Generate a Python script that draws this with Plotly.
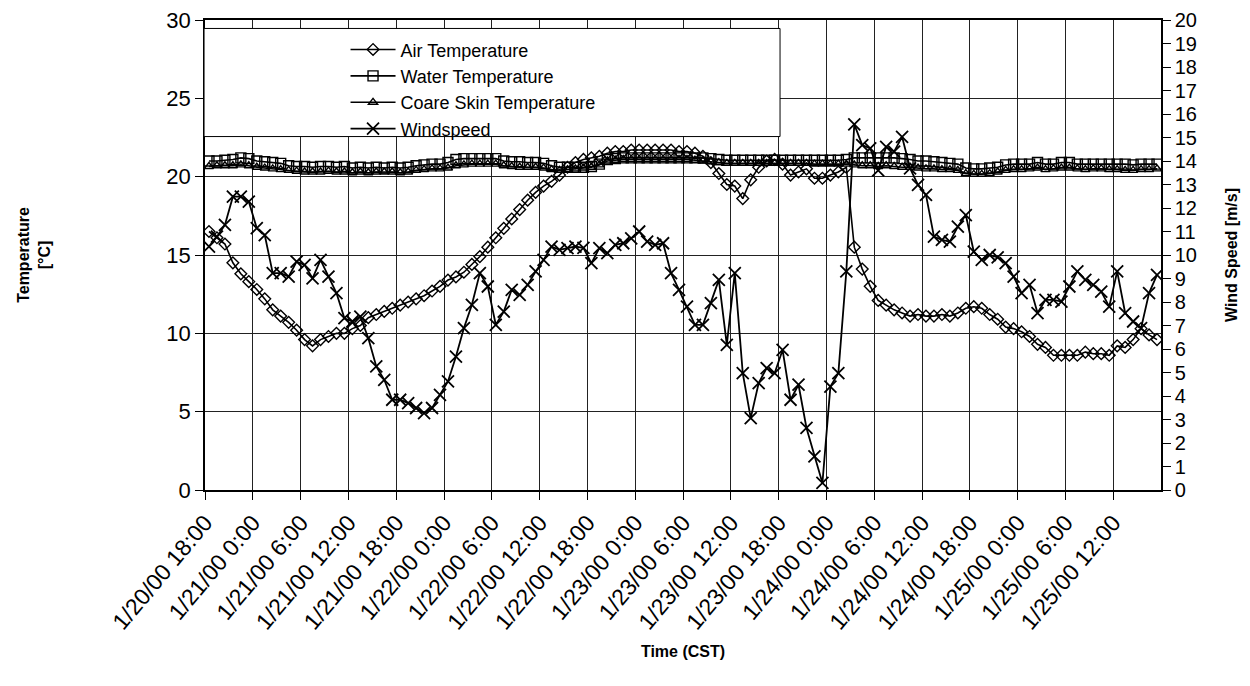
import pandas as pd
import plotly.graph_objects as go

# ---------------- data (hourly, half-hour stamped) ----------------
times = pd.date_range("2000-01-20 18:30", periods=120, freq="h")

air_temp = [
    16.5, 16.1, 15.7, 14.5, 13.8, 13.3, 12.8, 12.2, 11.5, 11.1,
    10.7, 10.2, 9.6, 9.2, 9.6, 9.8, 10.0, 10.0, 10.3, 10.5,
    11.0, 11.2, 11.4, 11.6, 11.8, 12.0, 12.2, 12.4, 12.7, 13.0,
    13.4, 13.6, 13.9, 14.4, 14.9, 15.5, 16.1, 16.7, 17.3, 17.9,
    18.5, 19.0, 19.4, 19.7, 20.1, 20.6, 20.9, 21.1, 21.2, 21.3,
    21.5, 21.6, 21.6, 21.7, 21.7, 21.7, 21.7, 21.7, 21.7, 21.6,
    21.6, 21.5, 21.3, 20.9, 20.2, 19.5, 19.4, 18.6, 19.8, 20.6,
    21.0, 21.1, 20.8, 20.1, 20.3, 20.5, 19.9, 19.9, 20.1, 20.3,
    20.6, 15.5, 14.1, 13.0, 12.1, 11.8, 11.5, 11.3, 11.1, 11.2,
    11.1, 11.1, 11.2, 11.1, 11.3, 11.6, 11.7, 11.6, 11.2, 10.9,
    10.4, 10.3, 10.1, 9.8, 9.3, 9.1, 8.6, 8.6, 8.6, 8.6,
    8.8, 8.7, 8.7, 8.6, 9.2, 9.1, 9.6, 10.3, 9.9, 9.6,
]

water_temp = [
    21.0, 21.0, 21.05, 21.1, 21.2, 21.15, 21.0, 20.95, 20.9, 20.85,
    20.7, 20.65, 20.65, 20.6, 20.65, 20.65, 20.6, 20.65, 20.55, 20.6,
    20.55, 20.6, 20.55, 20.6, 20.55, 20.6, 20.7, 20.75, 20.8, 20.8,
    20.9, 21.1, 21.15, 21.15, 21.15, 21.15, 21.15, 21.0, 20.95, 20.95,
    20.9, 20.9, 20.85, 20.7, 20.6, 20.6, 20.6, 20.6, 20.65, 20.8,
    21.1, 21.15, 21.2, 21.2, 21.2, 21.2, 21.2, 21.2, 21.2, 21.2,
    21.2, 21.2, 21.2, 21.15, 21.1, 21.05, 21.05, 21.05, 21.05, 21.05,
    21.05, 21.05, 21.05, 21.05, 21.05, 21.05, 21.05, 21.05, 21.05, 21.05,
    21.1, 21.2, 21.2, 21.2, 21.2, 21.2, 21.2, 21.15, 21.1, 21.0,
    21.0, 20.95, 20.9, 20.85, 20.8, 20.55, 20.5, 20.5, 20.55, 20.6,
    20.75, 20.8, 20.8, 20.8, 20.9, 20.8, 20.8, 20.9, 20.9, 20.8,
    20.8, 20.8, 20.8, 20.8, 20.8, 20.8, 20.75, 20.8, 20.8, 20.8,
]

skin_temp = [
    20.65, 20.7, 20.7, 20.7, 20.75, 20.7, 20.6, 20.55, 20.5, 20.45,
    20.4, 20.35, 20.3, 20.3, 20.3, 20.35, 20.3, 20.3, 20.25, 20.3,
    20.25, 20.3, 20.3, 20.3, 20.25, 20.3, 20.4, 20.45, 20.5, 20.5,
    20.55, 20.7, 20.75, 20.8, 20.8, 20.8, 20.8, 20.7, 20.65, 20.6,
    20.6, 20.6, 20.55, 20.45, 20.4, 20.45, 20.5, 20.55, 20.6, 20.75,
    21.0, 21.05, 21.1, 21.1, 21.1, 21.1, 21.1, 21.1, 21.1, 21.1,
    21.1, 21.05, 21.0, 20.95, 20.9, 20.85, 20.85, 20.85, 20.85, 20.85,
    20.85, 20.85, 20.85, 20.85, 20.85, 20.85, 20.8, 20.8, 20.8, 20.8,
    20.8, 20.75, 20.7, 20.7, 20.65, 20.7, 20.65, 20.6, 20.6, 20.55,
    20.5, 20.5, 20.45, 20.45, 20.4, 20.2, 20.15, 20.15, 20.2, 20.3,
    20.4, 20.45, 20.45, 20.5, 20.55, 20.45, 20.5, 20.55, 20.55, 20.5,
    20.45, 20.5, 20.5, 20.45, 20.45, 20.4, 20.4, 20.45, 20.45, 20.5,
]

wind_speed = [
    10.36, 10.78, 11.28, 12.48, 12.48, 12.27, 11.14, 10.85,
    9.23, 9.23, 9.08, 9.72, 9.58, 9.01, 9.79, 9.08,
    8.38, 7.31, 7.17, 7.38, 6.46, 5.26, 4.69, 3.84,
    3.84, 3.70, 3.49, 3.27, 3.49, 4.05, 4.62, 5.68,
    6.89, 7.88, 9.23, 8.66, 7.03, 7.59, 8.52, 8.30,
    8.73, 9.30, 9.79, 10.36, 10.22, 10.29, 10.36, 10.30,
    9.65, 10.29, 10.08, 10.43, 10.50, 10.71, 11.00, 10.57,
    10.43, 10.50, 9.23, 8.52, 7.80, 7.03, 7.03, 7.95,
    8.94, 6.18, 9.23, 4.97, 3.06, 4.55, 5.19, 4.97,
    5.96, 3.84, 4.48, 2.64, 1.43, 0.30, 4.40, 4.97,
    9.30, 15.56, 14.68, 14.54, 13.60, 14.60, 14.40, 15.03,
    13.69, 12.98, 12.56, 10.78, 10.64, 10.57, 11.21, 11.70,
    10.14, 9.79, 10.00, 9.90, 9.65, 9.08, 8.38, 8.73,
    7.53, 8.09, 8.09, 8.02, 8.66, 9.30, 8.94, 8.73,
    8.44, 7.80, 9.30, 7.53, 7.17, 6.89, 8.38, 9.15,
]

tick_times = pd.date_range("2000-01-20 18:00", periods=20, freq="6h")
tick_labels = [
    "1/20/00 18:00", "1/21/00 0:00", "1/21/00 6:00", "1/21/00 12:00",
    "1/21/00 18:00", "1/22/00 0:00", "1/22/00 6:00", "1/22/00 12:00",
    "1/22/00 18:00", "1/23/00 0:00", "1/23/00 6:00", "1/23/00 12:00",
    "1/23/00 18:00", "1/24/00 0:00", "1/24/00 6:00", "1/24/00 12:00",
    "1/24/00 18:00", "1/25/00 0:00", "1/25/00 6:00", "1/25/00 12:00",
]
x_range = ["2000-01-20 18:00", "2000-01-25 18:00"]

FONT = "Arial, 'Liberation Sans', sans-serif"

# ---------------- figure ----------------
fig = go.Figure()

fig.add_trace(go.Scatter(
    x=times, y=air_temp, name="Air Temperature", mode="lines+markers",
    line=dict(color="black", width=1.6),
    marker=dict(symbol="diamond-open", size=9, color="black", line=dict(color="black", width=1.4)),
))
fig.add_trace(go.Scatter(
    x=times, y=water_temp, name="Water Temperature", mode="lines+markers",
    line=dict(color="black", width=1.6),
    marker=dict(symbol="square-open", size=10, color="black", line=dict(color="black", width=1.4)),
))
fig.add_trace(go.Scatter(
    x=times, y=skin_temp, name="Coare Skin Temperature", mode="lines+markers",
    line=dict(color="black", width=1.6),
    marker=dict(symbol="triangle-up-open", size=8, color="black", line=dict(color="black", width=1.4)),
))
fig.add_trace(go.Scatter(
    x=times, y=wind_speed, name="Windspeed", mode="lines+markers", yaxis="y2",
    line=dict(color="black", width=1.8),
    marker=dict(symbol="x-thin-open", size=12, color="black", line=dict(color="black", width=1.8)),
))

fig.update_layout(
    width=1250, height=686,
    margin=dict(l=205, r=89, t=20, b=196, autoexpand=False),
    paper_bgcolor="white", plot_bgcolor="white",
    font=dict(family=FONT, color="black", size=18),
    showlegend=True,
    legend=dict(
        x=0.147, y=0.976, xanchor="left", yanchor="top",
        bgcolor="rgba(0,0,0,0)", borderwidth=0, itemwidth=45,
        font=dict(family=FONT, size=18, color="black"),
    ),
    shapes=[dict(
        type="rect", xref="paper", yref="paper",
        x0=-0.001, x1=0.6015, y0=0.752, y1=0.982,
        fillcolor="white", line=dict(color="black", width=1), layer="above",
    )],
    xaxis=dict(
        type="date", range=x_range,
        tickmode="array", tickvals=tick_times, ticktext=tick_labels,
        tickangle=-50, tickfont=dict(size=23),
        ticks="outside", ticklen=8, tickcolor="black", tickwidth=1,
        showgrid=True, gridcolor="#222", gridwidth=1,
        showline=True, linecolor="black", linewidth=2, mirror=True,
        zeroline=False,
        title=dict(text="<b>Time (CST)</b>", font=dict(size=16), standoff=12),
    ),
    yaxis=dict(
        range=[0, 30], tickmode="linear", tick0=0, dtick=5,
        tickfont=dict(size=22),
        ticks="outside", ticklen=8, tickcolor="black", tickwidth=1,
        showgrid=True, gridcolor="#222", gridwidth=1,
        showline=True, linecolor="black", linewidth=1.5,
        zeroline=False,
        title=dict(text="<b>Temperature<br>[°C]</b>", font=dict(size=16), standoff=112),
    ),
    yaxis2=dict(
        overlaying="y", side="right",
        range=[0, 20], tickmode="linear", tick0=0, dtick=1,
        tickfont=dict(size=20),
        ticks="outside", ticklen=8, tickcolor="black", tickwidth=1,
        showgrid=False,
        showline=True, linecolor="black", linewidth=1.5,
        zeroline=False,
        title=dict(text="<b>Wind Speed [m/s]</b>", font=dict(size=16), standoff=30),
    ),
)

fig.write_html("out.html")
